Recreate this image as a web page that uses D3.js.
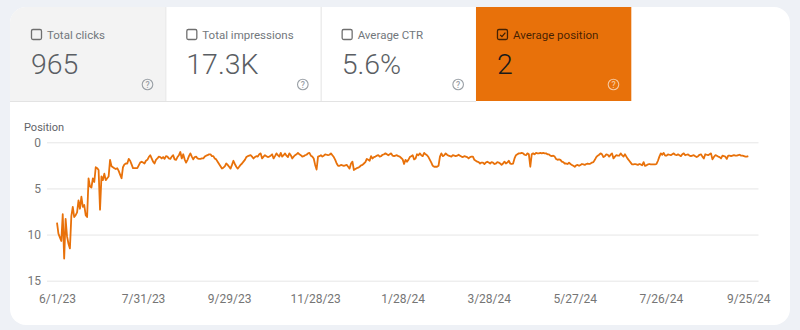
<!DOCTYPE html>
<html><head><meta charset="utf-8">
<script src="https://cdn.jsdelivr.net/npm/d3@7"></script>
<style>
body{margin:0;background:#eef1f6;}
svg{display:block;font-family:Roboto,"Noto Sans",sans-serif;}
</style>
</head><body>
<svg id="c" width="800" height="330"></svg>
<script>
const metricLabels = ["Total clicks", "Total impressions", "Average CTR", "Average position"];
const metricValues = ["965", "17.3K", "5.6%", "2"];
const selectedMetric = 3;
const yAxisTitle = "Position";
const startDate = "2023-06-01";
// daily average position, 6/1/23 .. 9/25/24
const positionValues = [
  8.7, 9.9, 10.3, 10.7, 7.8, 12.6, 8.3, 10.2, 11.0, 11.5,
  8.0, 7.0, 8.1, 7.9, 7.6, 6.3, 7.2, 5.9, 7.0, 6.8,
  7.9, 8.1, 3.9, 4.8, 4.9, 3.9, 4.3, 2.7, 2.8, 3.0,
  7.3, 3.7, 4.1, 3.4, 4.1, 3.9, 3.7, 1.9, 2.6, 2.7,
  2.8, 2.9, 2.8, 3.1, 3.5, 3.9, 2.7, 2.4, 2.3, 2.3,
  1.8, 2.0, 2.4, 2.8, 2.8, 2.8, 2.8, 2.5, 2.2, 2.1,
  2.2, 2.3, 2.0, 1.9, 1.6, 1.4, 1.75, 2.1, 2.3, 1.9,
  1.75, 1.55, 1.6, 1.75, 1.6, 1.8, 1.5, 1.55, 1.75, 1.8,
  1.55, 1.4, 1.85, 1.9, 1.6, 1.4, 1.05, 1.75, 1.3, 1.85,
  2.2, 1.9, 1.5, 1.2, 1.55, 1.85, 1.6, 1.55, 1.75, 1.8,
  1.8, 1.75, 1.75, 1.55, 1.45, 1.4, 1.3, 1.3, 1.5, 1.5,
  1.75, 1.85, 2.1, 2.35, 2.6, 2.85, 2.75, 2.6, 2.3, 2.45,
  2.65, 2.85, 2.45, 2.0, 2.35, 2.65, 2.85, 2.65, 2.45, 2.3,
  2.1, 1.9, 1.6, 1.5, 1.45, 1.4, 1.55, 1.75, 1.6, 1.5,
  1.55, 1.3, 1.2, 1.75, 1.55, 1.4, 1.5, 1.6, 1.55, 1.45,
  1.3, 1.75, 1.5, 1.2, 1.4, 1.55, 1.15, 1.55, 1.4, 1.2,
  1.45, 1.6, 1.2, 1.4, 1.75, 1.55, 1.4, 1.3, 1.15, 1.3,
  1.4, 1.55, 1.5, 1.4, 1.35, 1.2, 1.15, 1.45, 1.55, 1.75,
  2.45, 2.95, 1.55, 1.5, 1.4, 1.55, 1.45, 1.3, 1.35, 1.4,
  1.35, 1.2, 1.4, 1.6, 1.9, 2.3, 2.55, 2.55, 2.45, 2.5,
  2.55, 2.5, 2.45, 2.65, 2.85, 2.3, 2.1, 3.0, 2.9, 2.8,
  2.75, 2.65, 2.5, 2.45, 2.3, 2.15, 1.8, 1.9, 2.0, 1.5,
  1.75, 1.6, 1.55, 1.45, 1.4, 1.55, 1.5, 1.35, 1.3, 1.2,
  1.3, 1.4, 1.3, 1.2, 1.45, 1.5, 1.45, 1.4, 1.5, 1.55,
  1.7, 1.85, 2.35, 1.9, 2.1, 1.9, 1.6, 1.5, 1.4, 1.85,
  1.75, 1.3, 1.4, 1.2, 1.4, 1.5, 1.15, 1.3, 1.4, 1.6,
  1.9, 2.2, 2.55, 2.65, 2.65, 2.65, 2.55, 1.55, 1.2, 1.5,
  1.4, 1.2, 1.35, 1.45, 1.5, 1.55, 1.4, 1.45, 1.5, 1.45,
  1.35, 1.45, 1.55, 1.6, 1.5, 1.55, 1.6, 1.75, 1.6, 1.55,
  1.55, 1.9, 2.0, 2.1, 2.15, 2.3, 2.2, 2.2, 2.35, 2.2,
  2.1, 2.2, 2.3, 2.15, 2.2, 2.35, 2.3, 2.15, 2.2, 2.3,
  2.45, 2.3, 2.1, 2.3, 2.2, 2.0, 2.3, 2.35, 2.3, 1.75,
  1.4, 1.3, 1.2, 1.2, 1.15, 1.2, 1.35, 1.4, 1.2, 1.3,
  2.65, 1.3, 1.2, 1.3, 1.15, 1.2, 1.2, 1.15, 1.2, 1.15,
  1.2, 1.2, 1.3, 1.3, 1.45, 1.5, 1.45, 1.55, 1.8, 1.9,
  1.85, 1.9, 2.1, 2.15, 2.3, 2.3, 2.35, 2.2, 2.35, 2.45,
  2.55, 2.65, 2.5, 2.45, 2.55, 2.45, 2.35, 2.4, 2.45, 2.35,
  2.3, 2.35, 2.3, 2.2, 2.15, 1.9, 1.6, 1.45, 1.35, 1.2,
  1.3, 1.6, 1.5, 1.3, 1.35, 1.55, 1.35, 1.2, 1.75, 1.55,
  1.4, 1.45, 1.45, 1.2, 1.4, 1.55, 1.3, 1.55, 1.8, 2.0,
  2.2, 2.4, 2.4, 2.35, 2.4, 2.45, 2.35, 2.4, 2.5, 2.15,
  2.55, 2.5, 2.4, 2.35, 2.4, 2.4, 2.4, 2.4, 2.35, 2.0,
  1.55, 1.2, 1.35, 1.15, 1.45, 1.45, 1.3, 1.35, 1.4, 1.3,
  1.2, 1.35, 1.4, 1.3, 1.4, 1.5, 1.3, 1.2, 1.4, 1.35,
  1.3, 1.45, 1.5, 1.45, 1.4, 1.5, 1.6, 1.5, 1.35, 1.3,
  1.55, 1.75, 1.3, 1.35, 1.4, 1.3, 1.2, 1.85, 1.6, 1.4,
  1.45, 1.55, 1.6, 1.75, 1.45, 1.5, 1.55, 1.8, 1.45, 1.45,
  1.5, 1.45, 1.4, 1.45, 1.45, 1.4, 1.35, 1.45, 1.45, 1.5,
  1.55, 1.55, 1.5
];
const yTicks = [0, 5, 10, 15];
const xTickLabels = ["6/1/23", "7/31/23", "9/29/23", "11/28/23", "1/28/24", "3/28/24", "5/27/24", "7/26/24", "9/25/24"];

const ORANGE = "#e8710a";
const svg = d3.select("#c");

// card
const card = {x: 10, y: 7, w: 780, h: 318, r: 16};
const defs = svg.append("defs");
defs.append("clipPath").attr("id", "cardClip")
  .append("rect").attr("x", card.x).attr("y", card.y).attr("width", card.w).attr("height", card.h).attr("rx", card.r);
svg.append("rect").attr("x", card.x).attr("y", card.y).attr("width", card.w).attr("height", card.h)
  .attr("rx", card.r).attr("fill", "#ffffff");

const g = svg.append("g").attr("clip-path", "url(#cardClip)");

// tabs
const tabX = d3.scaleBand().domain(d3.range(metricLabels.length)).range([10, 631.3]).paddingInner(0);
const tabTop = 7, tabBottom = 101;
g.append("line").attr("x1", 10).attr("x2", 476).attr("y1", tabBottom + 0.5).attr("y2", tabBottom + 0.5)
  .attr("stroke", "#e3e3e3").attr("stroke-width", 1);

metricLabels.forEach((lab, i) => {
  const x0 = tabX(i), w = tabX.bandwidth();
  const sel = i === selectedMetric;
  const bg = sel ? ORANGE : (i === 0 ? "#f3f3f3" : "#ffffff");
  const tg = g.append("g");
  tg.append("rect").attr("x", x0).attr("y", tabTop).attr("width", w).attr("height", tabBottom - tabTop).attr("fill", bg);
  if (i > 0 && !sel) {
    tg.append("line").attr("x1", x0 + 0.5).attr("x2", x0 + 0.5).attr("y1", tabTop).attr("y2", tabBottom)
      .attr("stroke", "#e3e3e3");
  }
  const textCol = sel ? "rgba(0,0,0,0.72)" : "#72777c";
  // checkbox
  tg.append("rect").attr("x", x0 + 21.5).attr("y", 29.5).attr("width", 10).attr("height", 10).attr("rx", 1.5)
    .attr("fill", "none").attr("stroke", sel ? "rgba(0,0,0,0.7)" : "#6f6f6f").attr("stroke-width", 1.3);
  if (sel) {
    tg.append("path").attr("d", `M${x0 + 24.2},${34.8} L${x0 + 26},${36.6} L${x0 + 29.4},${32.6}`)
      .attr("fill", "none").attr("stroke", "rgba(0,0,0,0.75)").attr("stroke-width", 1.2);
  }
  tg.append("text").attr("x", x0 + 37).attr("y", 38.6).attr("font-size", 11.5).attr("fill", textCol).text(lab);
  tg.append("text").attr("x", x0 + 21).attr("y", 74).attr("font-size", 28.5).attr("font-weight", 300)
    .attr("fill", sel ? "#1a1a1a" : "#5a5e63").text(metricValues[i]);
  // help icon
  const hc = sel ? "rgba(255,255,255,0.6)" : "#9aa0a6";
  tg.append("circle").attr("cx", x0 + 137.5).attr("cy", 84.5).attr("r", 5.3)
    .attr("fill", "none").attr("stroke", hc).attr("stroke-width", 1.1);
  tg.append("text").attr("x", x0 + 137.5).attr("y", 87.6).attr("text-anchor", "middle")
    .attr("font-size", 8.5).attr("font-weight", 500).attr("fill", hc).text("?");
});

// chart
const parseTick = d3.timeParse("%m/%d/%y");
const start = d3.timeParse("%Y-%m-%d")(startDate);
const series = positionValues.map((v, i) => ({date: d3.timeDay.offset(start, i), v}));
const tickDates = xTickLabels.map(parseTick);

const x = d3.scaleTime().domain([tickDates[0], tickDates[tickDates.length - 1]]).range([57, 748.3]);
const y = d3.scaleLinear().domain([0, 15]).range([142.3, 280.7]);
const gridL = 47, gridR = 758.5;

const yAxis = svg.append("g").attr("transform", `translate(${gridL},0)`)
  .call(d3.axisLeft(y).tickValues(yTicks).tickSize(-(gridR - gridL)).tickPadding(6));
yAxis.select(".domain").remove();
yAxis.selectAll(".tick line").attr("stroke", "#e6e6e6");
yAxis.selectAll(".tick text").attr("fill", "#757575").attr("font-size", 12).attr("font-family", "Roboto, sans-serif");

const xAxis = svg.append("g").attr("transform", `translate(0,${y(15)})`)
  .call(d3.axisBottom(x).tickValues(tickDates).tickSize(0).tickPadding(13.5).tickFormat((d, i) => xTickLabels[i]));
xAxis.select(".domain").remove();
xAxis.selectAll(".tick text").attr("fill", "#757575").attr("font-size", 12).attr("font-family", "Roboto, sans-serif");

svg.append("text").attr("x", 24).attr("y", 131).attr("font-size", 11).attr("fill", "#5f6368").text(yAxisTitle);

svg.append("path").datum(series)
  .attr("fill", "none").attr("stroke", ORANGE).attr("stroke-width", 1.8).attr("stroke-linejoin", "round")
  .attr("d", d3.line().x(d => x(d.date)).y(d => y(d.v)));
</script>
</body></html>
